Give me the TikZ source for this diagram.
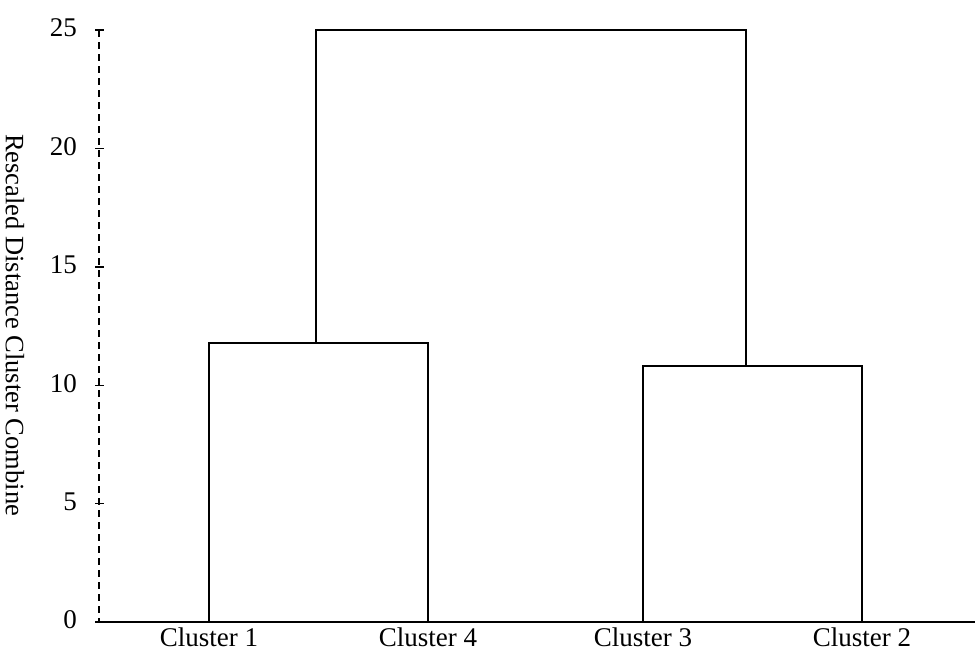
\documentclass[tikz,border=0pt]{standalone}
\usepackage{fontspec}
\setmainfont{Liberation Serif}
\begin{document}
\begin{tikzpicture}[x=1pt,y=-1pt,
  link/.style={line width=2pt,line cap=rect},
  axisline/.style={line width=1.6pt,dash pattern=on 7pt off 5pt},
  tickmark/.style={line width=1.4pt},
  ticklabel/.style={anchor=east,inner sep=0pt,font=\fontsize{27}{29}\selectfont},
  leaflabel/.style={anchor=north,inner sep=0pt,font=\fontsize{27}{29}\selectfont},
  axislabel/.style={rotate=-90,inner sep=0pt,font=\fontsize{26.5}{29}\selectfont}]
\useasboundingbox (0,0) rectangle (975,656);

% value axis (0 at y=622, 25 at y=30)
\coordinate (ytop) at (99,30);
\coordinate (ybot) at (99,622);
\draw[axisline] (ytop) -- (ybot);
\foreach \v in {0,5,...,25} {
  \coordinate (t\v) at (99,{622-\v*23.68});
  \draw[tickmark] ([xshift=-4pt]t\v) -- ([xshift=5pt]t\v);
  \node[ticklabel] (l\v) at ([xshift=-22pt,yshift=2pt]t\v) {\v};
}
\node[axislabel] (ylab) at (15,325) {Rescaled Distance Cluster Combine};

% baseline
\coordinate (xend) at (975,622);
\draw[line width=2pt] (ybot) -- (xend);

% leaves
\coordinate (c1) at (209,622);
\coordinate (c4) at (428,622);
\coordinate (c3) at (643,622);
\coordinate (c2) at (862,622);
\node[leaflabel] (n1) at ([yshift=-6pt]c1) {Cluster 1};
\node[leaflabel] (n4) at ([yshift=-6pt]c4) {Cluster 4};
\node[leaflabel] (n3) at ([yshift=-6pt]c3) {Cluster 3};
\node[leaflabel] (n2) at ([yshift=-6pt]c2) {Cluster 2};

% merge points
\coordinate (m14) at (316,343);
\coordinate (m32) at (746,366);
\coordinate (top) at (531,30);

\draw[link] (c1) |- (m14) -| (c4);
\draw[link] (c3) |- (m32) -| (c2);
\draw[link] (m14) |- (top) -| (m32);
\end{tikzpicture}
\end{document}
